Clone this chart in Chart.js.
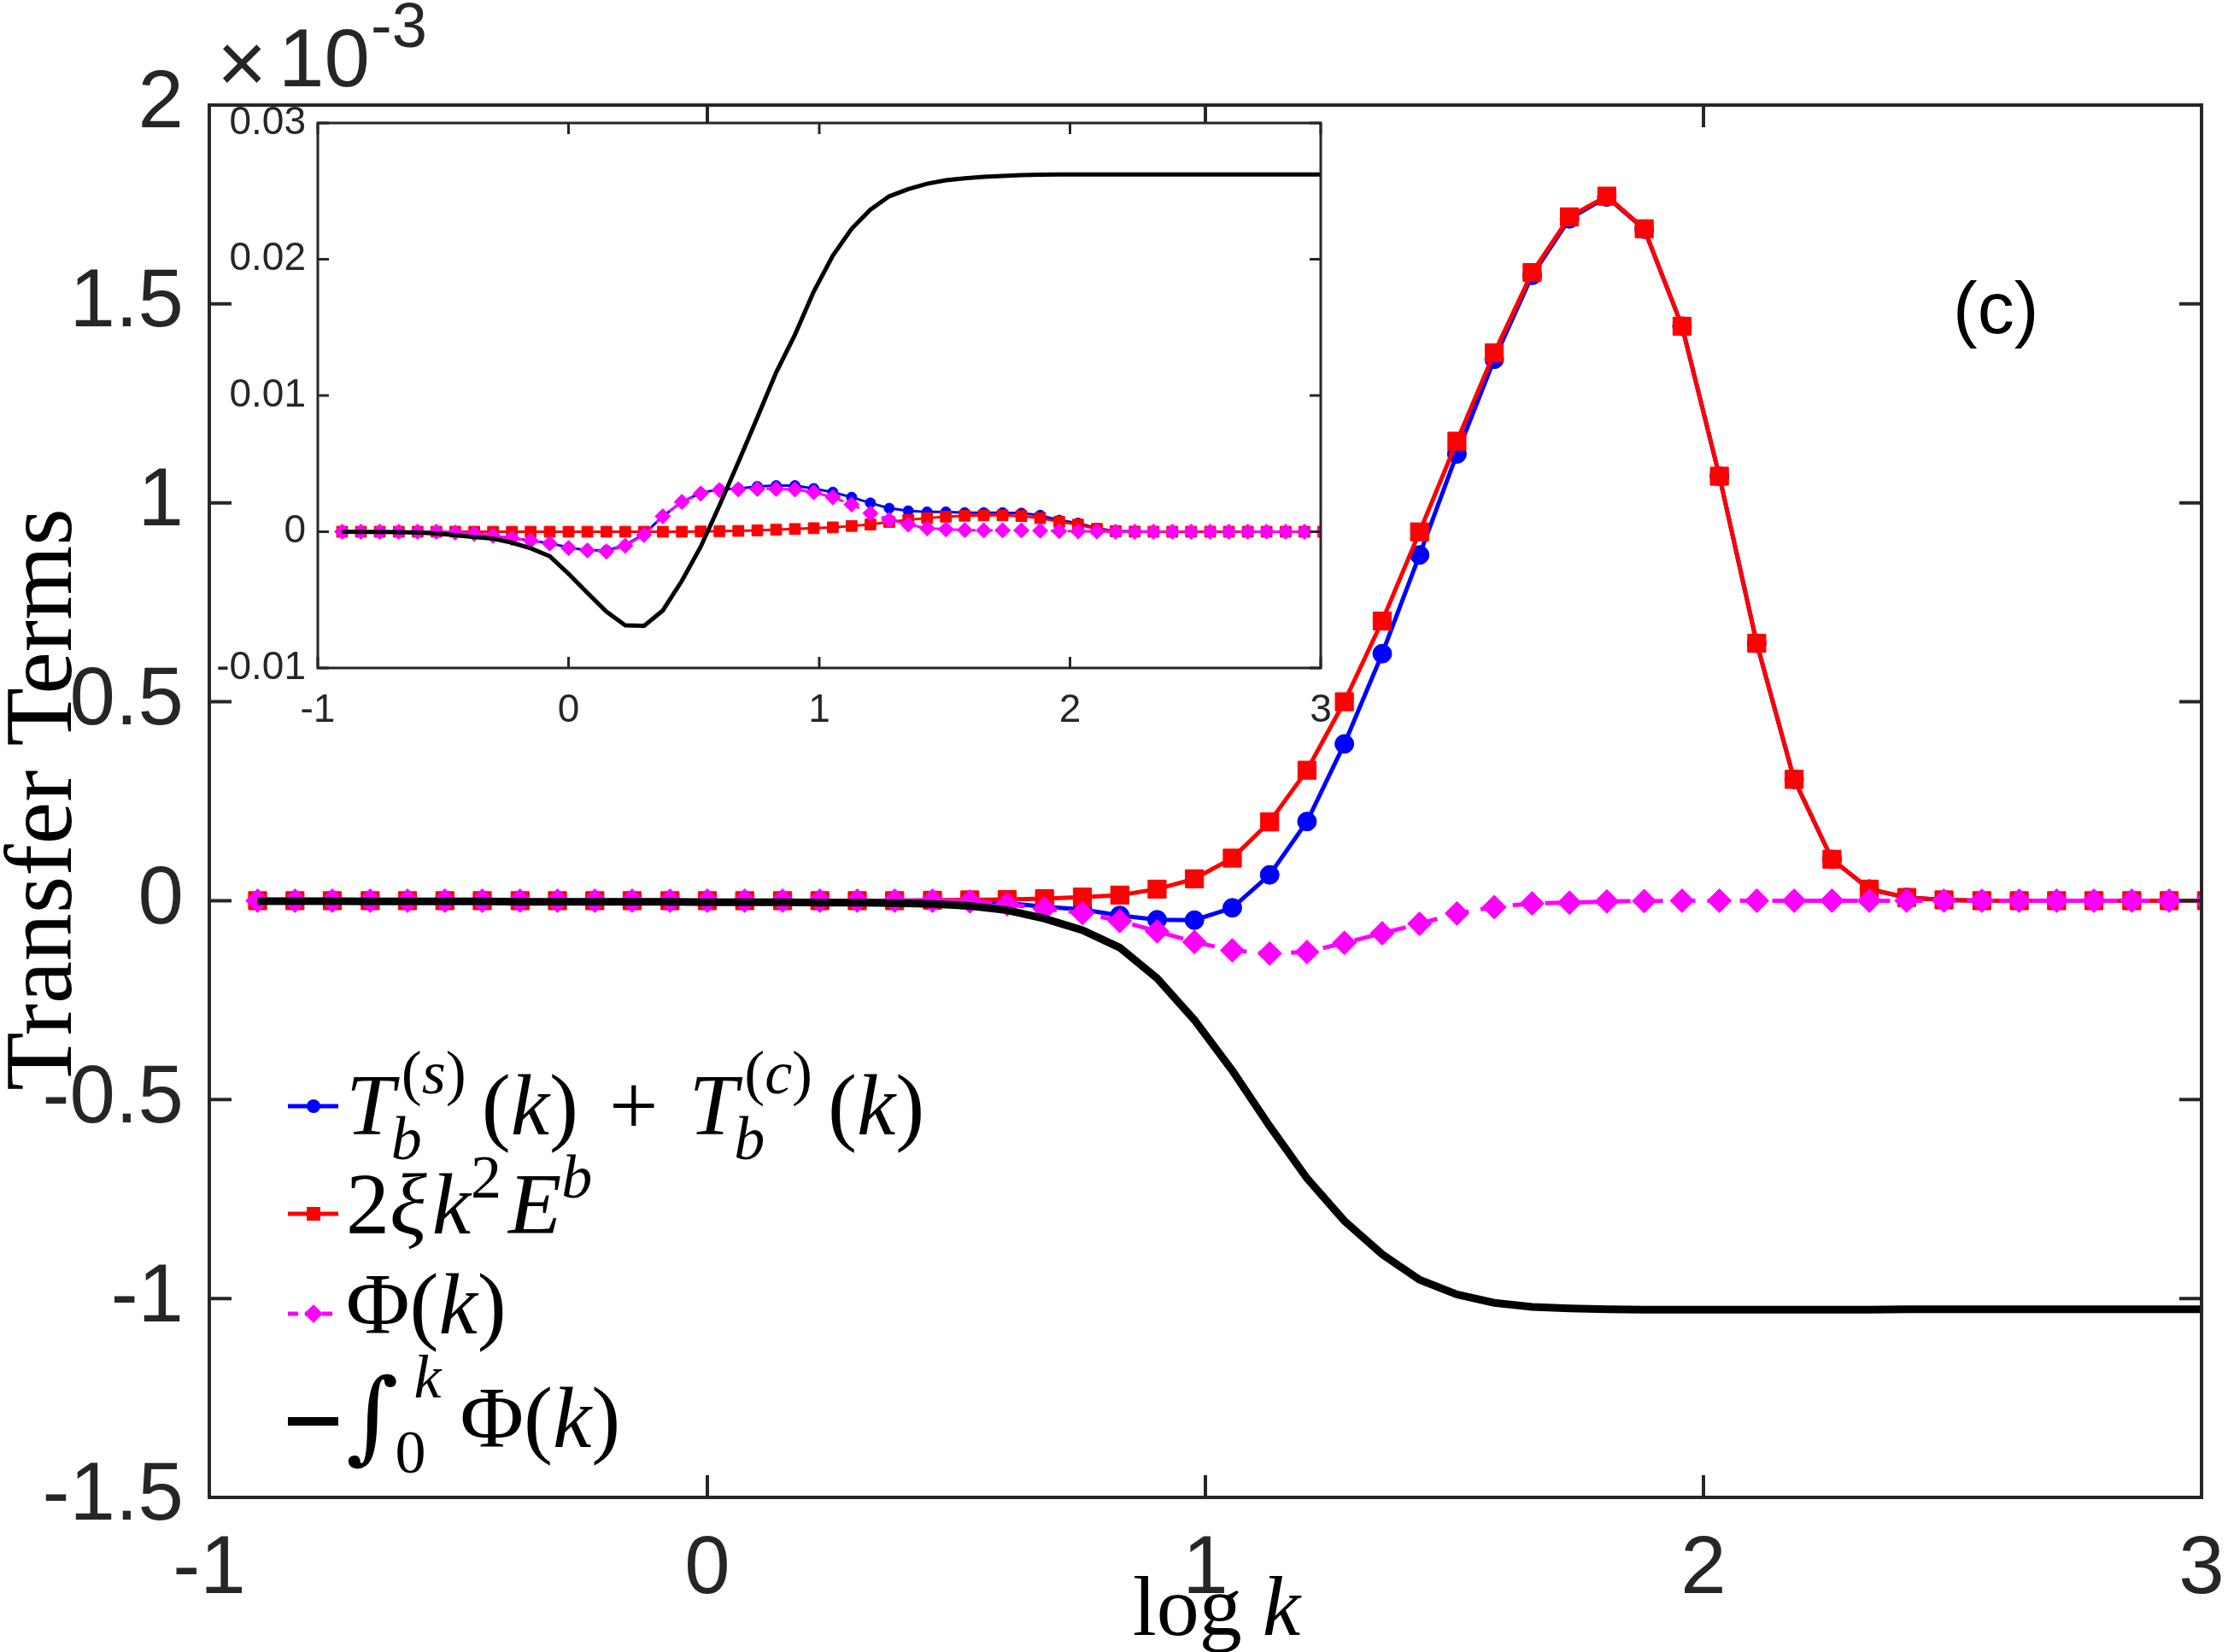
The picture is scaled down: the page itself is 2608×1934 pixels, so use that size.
<!DOCTYPE html>
<html>
<head>
<meta charset="utf-8">
<script src="https://cdn.jsdelivr.net/npm/chart.js@4.4.1/dist/chart.umd.min.js"></script>
<style>
  html, body { margin: 0; padding: 0; background: #fff; overflow: hidden; }
  #wrap { position: relative; width: 2608px; height: 1934px; }
  #mainChart { position: absolute; left: 0; top: 0; }
  #insetChart { position: absolute; left: 250px; top: 110px; }
</style>
</head>
<body>
<div id="wrap">
  <canvas id="mainChart" width="2608" height="1934"></canvas>
  <canvas id="insetChart" width="1320" height="760"></canvas>
</div>
<script>
// log10 k of each shell (last one sits just past the right edge)
const logK = [-0.903, -0.828, -0.753, -0.677, -0.602, -0.527, -0.452, -0.376, -0.301, -0.226,
  -0.151, -0.075, 0.000, 0.075, 0.151, 0.226, 0.301, 0.376, 0.452, 0.527,
  0.602, 0.677, 0.753, 0.828, 0.903, 0.978, 1.054, 1.129, 1.204, 1.279,
  1.355, 1.430, 1.505, 1.580, 1.656, 1.731, 1.806, 1.881, 1.957, 2.032,
  2.107, 2.182, 2.258, 2.333, 2.408, 2.483, 2.559, 2.634, 2.709, 2.784,
  2.860, 2.935, 3.010];

// main panel, units of 1e-3
const mainFlux = [0, 0, 0, 0, 0, 0, 0, 0, 0, 0,
  0, 0, 0, 0, 0, 0, 0, 0, 0.001, 0.000,
  -0.006, -0.015, -0.022, -0.037, -0.048, -0.049, -0.018, 0.065, 0.199, 0.394,
  0.621, 0.869, 1.123, 1.361, 1.572, 1.714, 1.769, 1.688, 1.444, 1.067,
  0.647, 0.305, 0.104, 0.029, 0.008, 0.002, 0, 0, 0, 0,
  0, 0, 0];
const mainDiss = [0, 0, 0, 0, 0, 0, 0, 0, 0, 0,
  0, 0, 0, 0, 0, 0, 0, 0, 0.001, 0.002,
  0.003, 0.005, 0.009, 0.014, 0.029, 0.055, 0.107, 0.198, 0.328, 0.500,
  0.703, 0.927, 1.155, 1.377, 1.579, 1.719, 1.771, 1.689, 1.444, 1.067,
  0.647, 0.305, 0.104, 0.029, 0.008, 0.002, 0, 0, 0, 0,
  0, 0, 0];
const mainPhi = [0, 0, 0, 0, 0, 0, 0, 0, 0, 0,
  0, 0, 0, 0, 0, 0, 0, 0, 0, -0.002,
  -0.009, -0.020, -0.031, -0.051, -0.077, -0.104, -0.125, -0.133, -0.129, -0.106,
  -0.082, -0.058, -0.032, -0.016, -0.007, -0.005, -0.002, -0.001, 0, 0,
  0, 0, 0, 0, 0, 0, 0, 0, 0, 0,
  0, 0, 0];
const mainCum = [-0.001, -0.001, -0.001, -0.002, -0.002, -0.002, -0.002, -0.003, -0.003, -0.003,
  -0.003, -0.003, -0.004, -0.004, -0.004, -0.005, -0.005, -0.006, -0.008, -0.013,
  -0.024, -0.045, -0.074, -0.118, -0.195, -0.300, -0.427, -0.567, -0.698, -0.805,
  -0.889, -0.953, -0.990, -1.011, -1.021, -1.025, -1.027, -1.028, -1.028, -1.028,
  -1.028, -1.028, -1.028, -1.028, -1.027, -1.027, -1.027, -1.027, -1.027, -1.027,
  -1.027, -1.027, -1.027];

// inset panel
const insetFlux = [0, 0, 0, 0, 0, 0, -0.00006, -0.00015, -0.0003, -0.00047,
  -0.00065, -0.00084, -0.00116, -0.00137, -0.00137, -0.00098, -0.00018, 0.00113, 0.00219, 0.00285,
  0.00311, 0.00317, 0.00332, 0.00338, 0.00338, 0.00317, 0.0029, 0.00253, 0.00211, 0.00172,
  0.00153, 0.00145, 0.00145, 0.0014, 0.0014, 0.0014, 0.00136, 0.00121, 0.00084, 0.00063,
  0.00025, 0.00005, 0.00001, 0, 0, 0, 0, 0, 0, 0,
  0, 0, 0];
const insetDiss = [0, 0, 0, 0, 0, 0, 0, 0, 0, 0,
  0, 0, 0, 0, 0, 0, 0, 0, 0, 0.00002,
  0.00004, 0.00006, 0.0001, 0.00015, 0.0002, 0.00026, 0.00032, 0.00042, 0.00053, 0.00072,
  0.00087, 0.001, 0.0011, 0.00117, 0.0012, 0.0012, 0.00115, 0.001, 0.00073, 0.00052,
  0.00021, 0.00004, 0.00001, 0, 0, 0, 0, 0, 0, 0,
  0, 0, 0];
const insetPhi = [0, 0, 0, 0, 0, 0, -0.00006, -0.00015, -0.0003, -0.00047,
  -0.00065, -0.00086, -0.0012, -0.00137, -0.00145, -0.00103, -0.00024, 0.00113, 0.00219, 0.0028,
  0.00306, 0.00311, 0.00314, 0.00314, 0.0031, 0.0029, 0.00253, 0.002, 0.00135, 0.00087,
  0.00053, 0.00025, 0.00018, 0.00012, 0.0001, 0.0001, 0.0001, 0.00008, 0.00005, 0.00003,
  0.00002, 0, 0, 0, 0, 0, 0, 0, 0, 0,
  0, 0, 0];
const insetCum = [0, -0.00001, -0.00001, -0.00003, -0.00006, -0.00012, -0.00025, -0.0004, -0.0005, -0.0008,
  -0.00122, -0.0018, -0.00309, -0.00449, -0.00586, -0.00686, -0.00691, -0.00578, -0.00361, -0.00111,
  0.00193, 0.00509, 0.00839, 0.01169, 0.01446, 0.01763, 0.02026, 0.02224, 0.02364, 0.02462,
  0.02515, 0.02554, 0.0258, 0.02594, 0.02605, 0.02612, 0.02617, 0.0262, 0.02622, 0.02622,
  0.02622, 0.02622, 0.02622, 0.02622, 0.02622, 0.02622, 0.02622, 0.02622, 0.02622, 0.02622,
  0.02622, 0.02622, 0.02622];

const mainXTicks = [-1, 0, 1, 2, 3];
const mainXTickLabels = ['-1', '0', '1', '2', '3'];
const mainYTicks = [-1.5, -1, -0.5, 0, 0.5, 1, 1.5, 2];
const mainYTickLabels = ['-1.5', '-1', '-0.5', '0', '0.5', '1', '1.5', '2'];
const insetXTicks = [-1, 0, 1, 2, 3];
const insetXTickLabels = ['-1', '0', '1', '2', '3'];
const insetYTicks = [-0.01, 0, 0.01, 0.02, 0.03];
const insetYTickLabels = ['-0.01', '0', '0.01', '0.02', '0.03'];

const axisColor = '#262626';
const sans = '"Liberation Sans", Arial, Helvetica, sans-serif';
const serif = '"Liberation Serif", "Times New Roman", serif';

function pts(ys) {
    return logK.map((x, i) => ({ x: x, y: ys[i] }));
}

// box with inward ticks on all four sides, MATLAB style
function drawBox(chart, xt, yt, len, lw) {
    const ctx = chart.ctx;
    const a = chart.chartArea;
    const xs = chart.scales.x, ys = chart.scales.y;
    ctx.save();
    ctx.strokeStyle = axisColor;
    ctx.lineWidth = lw;
    ctx.beginPath();
    xt.forEach(v => {
        const px = xs.getPixelForValue(v);
        ctx.moveTo(px, a.bottom); ctx.lineTo(px, a.bottom - len);
        ctx.moveTo(px, a.top); ctx.lineTo(px, a.top + len);
    });
    yt.forEach(v => {
        const py = ys.getPixelForValue(v);
        ctx.moveTo(a.left, py); ctx.lineTo(a.left + len, py);
        ctx.moveTo(a.right, py); ctx.lineTo(a.right - len, py);
    });
    ctx.stroke();
    ctx.strokeRect(a.left, a.top, a.right - a.left, a.bottom - a.top);
    ctx.restore();
}

// write a row of text pieces; nx = stay in place (for stacked sub/sup)
function drawRuns(ctx, x, y, runs) {
    runs.forEach(r => {
        if (r.gap) { x += r.gap; return; }
        ctx.font = r.f;
        ctx.fillText(r.t, x + (r.dx || 0), y + (r.dy || 0));
        if (!r.nx) x += ctx.measureText(r.t).width + (r.dx || 0);
    });
}

function marker(ctx, style, x, y, r) {
    ctx.beginPath();
    if (style === 'circle') {
        ctx.arc(x, y, r, 0, Math.PI * 2);
    } else if (style === 'rect') {
        ctx.rect(x - r, y - r, 2 * r, 2 * r);
    } else {
        ctx.moveTo(x, y - r); ctx.lineTo(x + r, y); ctx.lineTo(x, y + r); ctx.lineTo(x - r, y);
        ctx.closePath();
    }
    ctx.fill();
}

const mIt = 'italic 102px ' + serif;
const mUp = '102px ' + serif;
const sIt = 'italic 72px ' + serif;
const sUp = '72px ' + serif;

const legendItems = [
    { color: '#0000ff', width: 5, dash: [], mark: 'circle', r: 8, y: 1295, base: 1328, runs: [
        { t: 'T', f: mIt }, { t: 'b', f: sIt, dy: 29, nx: true, dx: -4 },
        { t: '(', f: sUp, dy: -48, dx: 8 }, { t: 's', f: sIt, dy: -48 }, { t: ')', f: sUp, dy: -48 },
        { gap: 18 }, { t: '(', f: mUp }, { t: 'k', f: mIt }, { t: ')', f: mUp },
        { gap: 36 }, { t: '+', f: mUp }, { gap: 36 },
        { t: 'T', f: mIt }, { t: 'b', f: sIt, dy: 29, nx: true, dx: -4 },
        { t: '(', f: sUp, dy: -48, dx: 8 }, { t: 'c', f: sIt, dy: -48 }, { t: ')', f: sUp, dy: -48 },
        { gap: 18 }, { t: '(', f: mUp }, { t: 'k', f: mIt }, { t: ')', f: mUp }
    ] },
    { color: '#ff0000', width: 5, dash: [], mark: 'rect', r: 8, y: 1421, base: 1444, runs: [
        { t: '2', f: mUp }, { t: 'ξ', f: mIt }, { gap: 6 }, { t: 'k', f: mIt },
        { t: '2', f: sUp, dy: -42 }, { gap: 8 }, { t: 'E', f: mIt }, { t: 'b', f: sIt, dy: -42 }
    ] },
    { color: '#ff00ff', width: 5, dash: [12, 8], mark: 'diamond', r: 11, y: 1538, base: 1561, runs: [
        { t: 'Φ', f: mUp }, { t: '(', f: mUp }, { t: 'k', f: mIt }, { t: ')', f: mUp }
    ] },
    { color: '#000000', width: 10, dash: [], mark: null, r: 0, y: 1664, base: 1694, runs: [
        { t: '∫', f: '118px "DejaVu Serif", serif', dy: 4 },
        { t: '0', f: sUp, dy: 30, nx: true, dx: -4 }, { t: 'k', f: sIt, dy: -58, dx: 18 },
        { gap: 22 }, { t: 'Φ', f: mUp }, { t: '(', f: mUp }, { t: 'k', f: mIt }, { t: ')', f: mUp }
    ] }
];

const mainDecor = {
    id: 'mainDecor',
    afterDraw(chart) {
        const ctx = chart.ctx;
        drawBox(chart, mainXTicks, mainYTicks, 26, 4);
        ctx.save();
        ctx.fillStyle = axisColor;
        ctx.textBaseline = 'alphabetic';
        ctx.textAlign = 'left';
        // exponent label
        ctx.font = '100px ' + sans;
        ctx.fillText('×', 254, 108);
        ctx.font = '96px ' + sans;
        ctx.fillText('10', 326, 101);
        ctx.font = '74px ' + sans;
        ctx.fillText('-3', 434, 55);
        // panel tag
        ctx.fillStyle = '#000';
        ctx.font = '86px ' + sans;
        ctx.fillText('(c)', 2286, 390);
        // axis titles
        ctx.font = '112px ' + serif;
        ctx.save();
        ctx.translate(83, 936);
        ctx.rotate(-Math.PI / 2);
        ctx.textAlign = 'center';
        ctx.fillText('Transfer Terms', 0, 0);
        ctx.restore();
        drawRuns(ctx, 1326, 1914, [{ t: 'log', f: '100px ' + serif }, { gap: 24 }, { t: 'k', f: 'italic 100px ' + serif }]);
        // legend
        legendItems.forEach(it => {
            ctx.strokeStyle = it.color;
            ctx.fillStyle = it.color;
            ctx.lineWidth = it.width;
            ctx.setLineDash(it.dash);
            ctx.beginPath();
            ctx.moveTo(337, it.y); ctx.lineTo(396, it.y);
            ctx.stroke();
            ctx.setLineDash([]);
            if (it.mark) marker(ctx, it.mark, 367, it.y, it.r);
            ctx.fillStyle = '#000';
            drawRuns(ctx, 405, it.base, it.runs);
        });
        ctx.restore();
    }
};

const insetDecor = {
    id: 'insetDecor',
    beforeDraw(chart) {
        const a = chart.chartArea;
        chart.ctx.save();
        chart.ctx.fillStyle = '#fff';
        chart.ctx.fillRect(a.left, a.top, a.right - a.left, a.bottom - a.top);
        chart.ctx.restore();
    },
    afterDraw(chart) {
        drawBox(chart, insetXTicks, insetYTicks, 13, 3);
    }
};

function lineSet(data, color, opts) {
    return Object.assign({
        data: data,
        borderColor: color,
        backgroundColor: color,
        pointBorderColor: color,
        pointBackgroundColor: color,
        pointBorderWidth: 1,
        tension: 0,
        clip: 0
    }, opts);
}

function axes(xt, xl, yt, yl, xmin, xmax, ymin, ymax, fontSize, xPad, yPad, yWidth, xHeight) {
    return {
        x: {
            type: 'linear', min: xmin, max: xmax,
            grid: { display: false, drawTicks: false },
            border: { display: false },
            afterBuildTicks: s => { s.ticks = xt.map(v => ({ value: v })); },
            afterFit: s => { s.height = xHeight; s.paddingLeft = 0; s.paddingRight = 0; },
            ticks: {
                autoSkip: false, maxRotation: 0, padding: xPad, color: axisColor,
                font: { family: sans, size: fontSize },
                callback: (v, i) => xl[i]
            }
        },
        y: {
            type: 'linear', min: ymin, max: ymax,
            grid: { display: false, drawTicks: false },
            border: { display: false },
            afterBuildTicks: s => { s.ticks = yt.map(v => ({ value: v })); },
            afterFit: s => { s.width = yWidth; s.paddingTop = 0; s.paddingBottom = 0; },
            ticks: {
                autoSkip: false, padding: yPad, color: axisColor,
                font: { family: sans, size: fontSize },
                callback: (v, i) => yl[i]
            }
        }
    };
}

new Chart(document.getElementById('mainChart'), {
    type: 'line',
    data: {
        datasets: [
            lineSet(pts(mainFlux), '#0000ff', { borderWidth: 5, pointStyle: 'circle', pointRadius: 11, order: 4 }),
            lineSet(pts(mainDiss), '#ff0000', { borderWidth: 5, pointStyle: 'rect', pointRadius: 15, order: 3 }),
            lineSet(pts(mainPhi), '#ff00ff', { borderWidth: 5, borderDash: [24, 14], pointStyle: 'rectRot', pointRadius: 14, order: 2 }),
            lineSet(pts(mainCum), '#000000', { borderWidth: 9, pointRadius: 0, order: 1 })
        ]
    },
    options: {
        responsive: false,
        animation: false,
        devicePixelRatio: 1,
        events: [],
        layout: { padding: { top: 123, right: 31, bottom: 0, left: 0 } },
        scales: axes(mainXTicks, mainXTickLabels, mainYTicks, mainYTickLabels, -1, 3, -1.5, 2, 96, 28, 30, 245, 181),
        plugins: { legend: { display: false }, tooltip: { enabled: false } }
    },
    plugins: [mainDecor]
});

new Chart(document.getElementById('insetChart'), {
    type: 'line',
    data: {
        datasets: [
            lineSet(pts(insetFlux), '#0000ff', { borderWidth: 3, pointStyle: 'circle', pointRadius: 6, order: 4 }),
            lineSet(pts(insetDiss), '#ff0000', { borderWidth: 3, pointStyle: 'rect', pointRadius: 9, order: 3 }),
            lineSet(pts(insetPhi), '#ff00ff', { borderWidth: 3, borderDash: [12, 8], pointStyle: 'rectRot', pointRadius: 9, order: 2 }),
            lineSet(pts(insetCum), '#000000', { borderWidth: 5, pointRadius: 0, order: 1 })
        ]
    },
    options: {
        responsive: false,
        animation: false,
        devicePixelRatio: 1,
        events: [],
        layout: { padding: { top: 34, right: 24, bottom: 0, left: 0 } },
        scales: axes(insetXTicks, insetXTickLabels, insetYTicks, insetYTickLabels, -1, 3, -0.01, 0.03, 46, 23, 14, 122, 88),
        plugins: { legend: { display: false }, tooltip: { enabled: false } }
    },
    plugins: [insetDecor]
});
</script>
</body>
</html>
